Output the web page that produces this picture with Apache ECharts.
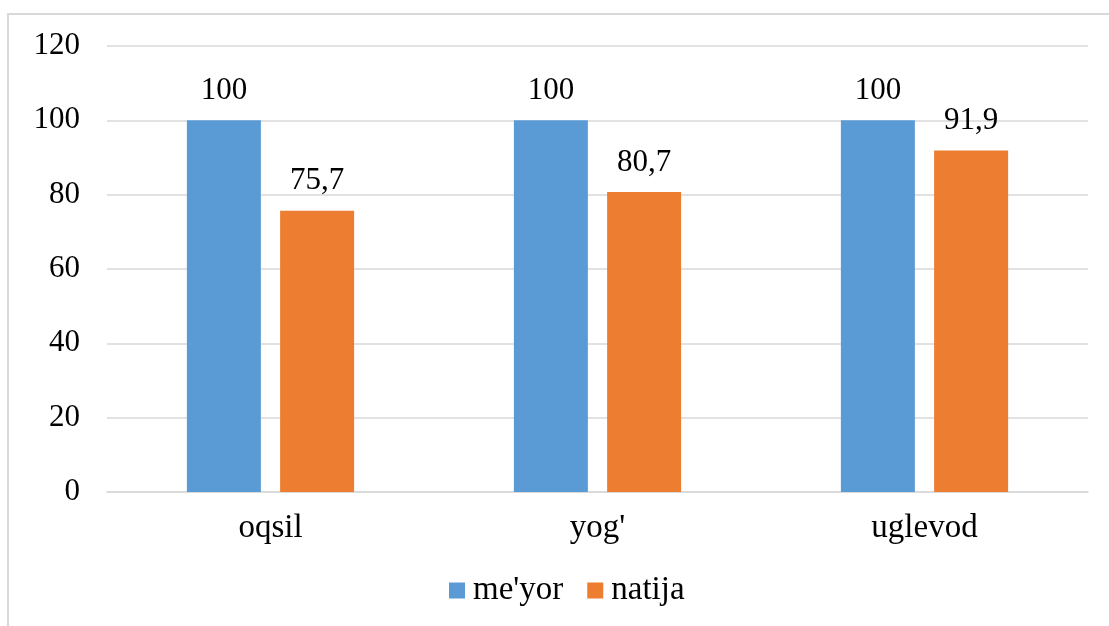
<!DOCTYPE html>
<html><head><meta charset="utf-8">
<script src="https://cdn.jsdelivr.net/npm/echarts@6/dist/echarts.min.js"></script>
<style>
html,body{margin:0;padding:0;background:#fff;overflow:hidden}
#frame{position:absolute;left:7px;top:13px;width:1200px;height:700px;border:2px solid #d9d9d9;box-sizing:border-box}
#c{position:absolute;left:0;top:0;width:1109px;height:626px}
</style></head>
<body>
<div id="frame"></div>
<div id="c"></div>
<script>
const categories = ["oqsil", "yog'", "uglevod"];
const meyor = [100, 100, 100];
const natija = [75.7, 80.7, 91.9];
const seriesNames = ["me'yor", "natija"];
const yTicks = {min: 0, max: 120, interval: 20};

const FONT = '"Liberation Serif","Times New Roman",serif';
const chart = echarts.init(document.getElementById('c'), null, {renderer: 'canvas'});
const lbl = {
  show: true, position: 'top', distance: 14,
  fontFamily: FONT, fontSize: 31, color: '#000',
  formatter: p => String(p.value).replace('.', ',')
};
chart.setOption({
  animation: false,
  grid: {left: 107, right: 21, top: 46, bottom: 134, containLabel: false},
  legend: {
    bottom: 14, left: 444, itemWidth: 16, itemHeight: 16, itemGap: 24,
    icon: 'rect',
    textStyle: {fontFamily: FONT, fontSize: 33, color: '#000', padding: [0, 0, 0, 3]},
    data: seriesNames
  },
  xAxis: {
    type: 'category', data: categories,
    axisLine: {lineStyle: {color: '#d9d9d9', width: 1.5}},
    axisTick: {show: false},
    axisLabel: {fontFamily: FONT, fontSize: 33, color: '#000', margin: 20}
  },
  yAxis: {
    type: 'value', min: yTicks.min, max: yTicks.max, interval: yTicks.interval,
    axisLine: {show: false}, axisTick: {show: false},
    splitLine: {lineStyle: {color: '#d9d9d9', width: 1.5}},
    axisLabel: {fontFamily: FONT, fontSize: 31, color: '#000', margin: 27}
  },
  series: [
    {name: seriesNames[0], type: 'bar', data: meyor, barWidth: 74, barGap: '26%',
     itemStyle: {color: '#5b9bd5'}, label: lbl},
    {name: seriesNames[1], type: 'bar', data: natija, barWidth: 74,
     itemStyle: {color: '#ed7d31'}, label: lbl}
  ]
});
</script>
</body></html>
